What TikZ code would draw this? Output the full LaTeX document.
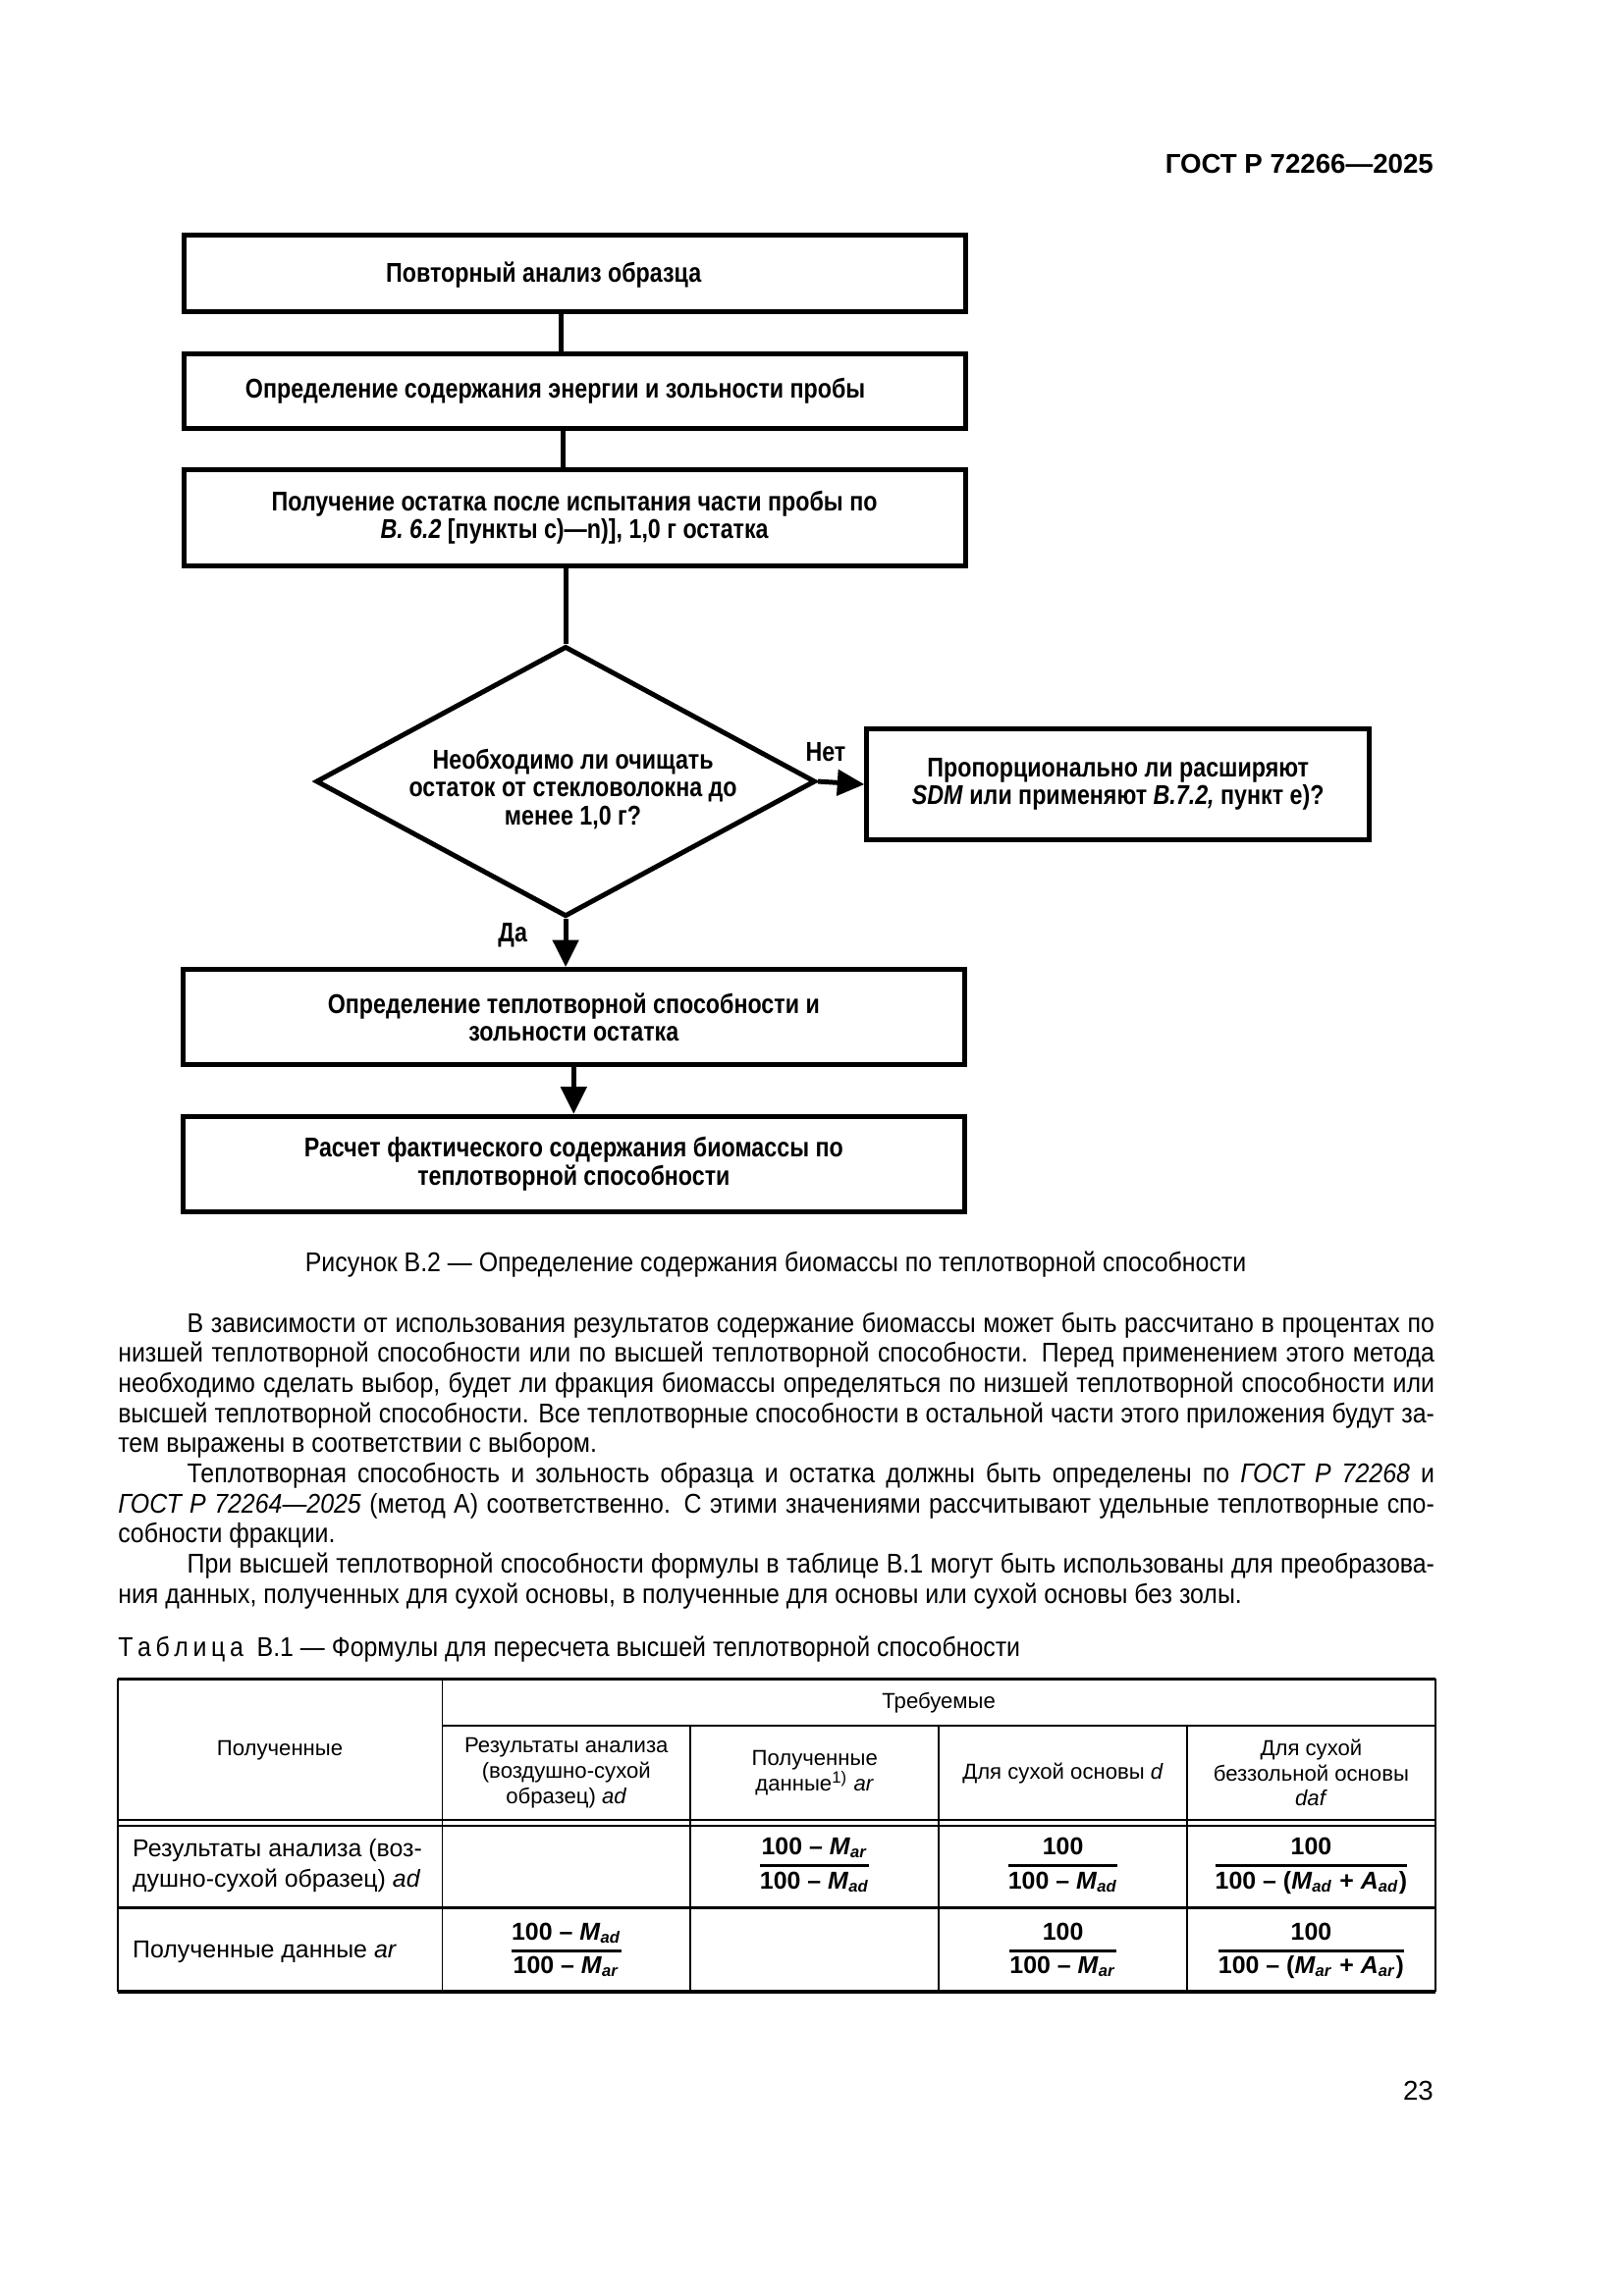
\documentclass[tikz,border=0pt]{standalone}
\usepackage{fontspec}
\setmainfont{Liberation Sans}
\newfontfamily\figfont[FakeStretch=0.84]{Liberation Sans}
\newfontfamily\bodyfont[FakeStretch=0.9]{Liberation Sans}
\usetikzlibrary{arrows.meta,shapes.geometric}
\newcommand\fr[2]{{\setlength\arrayrulewidth{1pt}\renewcommand\arraystretch{1.15}\begin{tabular}{@{}c@{}}#1\\\hline #2\end{tabular}}}
\newcommand\Mx[1]{\textit{M}\textsubscript{\textit{#1}}}
\newcommand\Ax[1]{\textit{A}\textsubscript{\textit{#1}}}
\newcommand\jl[1]{\makebox[170.24mm][s]{#1}}
\newcommand\ji[1]{\makebox[161.31mm][s]{#1}}
\begin{document}
\begin{tikzpicture}[x=0.19mm,y=-0.19mm,
 box/.style={draw,line width=1.8pt,minimum width=101.08mm,inner sep=0pt,align=center,font=\figfont\bfseries\fontsize{10}{10.3}\selectfont},
 conn/.style={line width=1.8pt},
 arr/.style={line width=1.8pt,-{Triangle[length=3.5mm,width=3.3mm]}},
 figlbl/.style={font=\figfont\bfseries\fontsize{10}{10.3}\selectfont,inner sep=0pt,align=center},
 body/.style={anchor=base west,inner sep=0pt,font=\bodyfont\fontsize{10}{11}\selectfont},
 tline/.style={line width=0.6pt},
 tthick/.style={line width=1.2pt},
 th/.style={font=\fontsize{8}{9.3}\selectfont,align=center,inner sep=0pt},
 td/.style={font=\fontsize{9}{11}\selectfont,align=left,inner sep=0pt,anchor=west},
 tf/.style={font=\bfseries\fontsize{9}{10}\selectfont,inner sep=0pt}]
\useasboundingbox (0,0) rectangle (1105.26,1563.16);
\fill[white] (0,0) rectangle (1105.26,1563.16);

\node[anchor=base east,inner sep=0pt,font=\bfseries\fontsize{10}{12}\selectfont] (hdr) at (976,118) {ГОСТ Р 72266—2025};

% flowchart
\node[box,minimum height=9.88mm] (b1) at (391,186) {};
\node[figlbl] (t1) at (370,187) {Повторный анализ образца};
\node[box,minimum height=9.69mm] (b2) at (391,266.5) {};
\node[figlbl] (t2) at (378,266) {Определение содержания энергии и зольности пробы};
\node[box,minimum height=12.35mm] (b3) at (391,352.5) {Получение остатка после испытания части пробы по\\\textit{В. 6.2} [пункты c)—n)], 1,0 г остатка};
\node[draw,diamond,line width=1.8pt,minimum width=64.6mm,minimum height=34.96mm,inner sep=0pt] (d) at (385,532) {};
\node[figlbl] (dt) at (390,537) {Необходимо ли очищать\\остаток от стекловолокна до\\менее 1,0 г?};
\node[box,minimum width=64.98mm,minimum height=14.44mm] (rb) at (761,534) {Пропорционально ли расширяют\\\textit{SDM} или применяют \textit{В.7.2,} пункт е)?};
\node[box,minimum height=12.35mm] (b4) at (390.5,692.5) {Определение теплотворной способности и\\зольности остатка};
\node[box,minimum height=12.35mm] (b5) at (390.5,792.5) {Расчет фактического содержания биомассы по\\теплотворной способности};

\coordinate (cx1) at (382,0);
\coordinate (cx2) at (383,0);
\draw[conn] (b1.south -| cx1) -- (b2.north -| cx1);
\draw[conn] (b2.south -| cx2) -- (b3.north -| cx2);
\draw[conn] (b3.south -| d.north) -- (d.north);
\draw[arr] (d.east) -- (rb.west);
\draw[arr] (d.south) -- (b4.north -| d.south);
\draw[arr] (b4.south) -- (b5.north);
\node[figlbl] (no) at (562,512) {Нет};
\node[figlbl] (yes) at (349,637) {Да};

\node[anchor=base,inner sep=0pt,font=\bodyfont\fontsize{10}{12}\selectfont] (cap) at (528,866) {Рисунок В.2 — Определение содержания биомассы по теплотворной способности};

% body text
\node[body] (p1) at (127,907) {\ji{В зависимости от использования результатов содержание биомассы может быть рассчитано в процентах по}};
\node[body] (p2) at (80,927.5) {\jl{низшей теплотворной способности или по высшей теплотворной способности. Перед применением этого метода}};
\node[body] (p3) at (80,948) {\jl{необходимо сделать выбор, будет ли фракция биомассы определяться по низшей теплотворной способности или}};
\node[body] (p4) at (80,968.5) {\jl{высшей теплотворной способности. Все теплотворные способности в остальной части этого приложения будут за-}};
\node[body] (p5) at (80,989) {тем выражены в соответствии с выбором.};
\node[body] (p6) at (127,1009.5) {\ji{Теплотворная способность и зольность образца и остатка должны быть определены по \textit{ГОСТ Р 72268} и}};
\node[body] (p7) at (80,1030) {\jl{\textit{ГОСТ Р 72264—2025} (метод А) соответственно. С этими значениями рассчитывают удельные теплотворные спо-}};
\node[body] (p8) at (80,1050.5) {собности фракции.};
\node[body] (p9) at (127,1071) {\ji{При высшей теплотворной способности формулы в таблице В.1 могут быть использованы для преобразова-}};
\node[body] (p10) at (80,1091.5) {ния данных, полученных для сухой основы, в полученные для основы или сухой основы без золы.};

\node[body] (tc) at (80,1128) {Т\,а\,б\,л\,и\,ц\,а\enspace В.1 — Формулы для пересчета высшей теплотворной способности};

% table
\draw[tthick] (80,1143) -- (977,1143);
\draw[tline] (301,1175) -- (977,1175);
\draw[tline] (80,1239) -- (977,1239);
\draw[tline] (80,1243) -- (977,1243);
\draw[tthick] (80,1299) -- (977,1299);
\draw[tthick] (80,1356) -- (977,1356);
\draw[tline] (80,1143) -- (80,1356);
\draw[tline] (977,1143) -- (977,1356);
\draw[tline] (301,1143) -- (301,1356);
\draw[tline] (470,1175) -- (470,1356);
\draw[tline] (639,1175) -- (639,1356);
\draw[tline] (808,1175) -- (808,1356);

\node[th] (h0) at (190.5,1192) {Полученные};
\node[th] (h1) at (639,1159) {Требуемые};
\node[th] (h2) at (385.5,1207) {Результаты анализа\\(воздушно-сухой\\образец) \textit{ad}};
\node[th] (h3) at (554.5,1207) {Полученные\\данные\textsuperscript{1)} \textit{ar}};
\node[th] (h4) at (723.5,1207) {Для сухой основы \textit{d}};
\node[th] (h5) at (892.5,1207) {Для сухой\\беззольной основы\\\textit{daf}};

\node[td] (r1) at (90,1270) {Результаты анализа (воз-\\душно-сухой образец) \textit{ad}};
\node[td] (r2) at (90,1329) {Полученные данные \textit{ar}};

\node[tf] (f13) at (554.5,1270) {\fr{100 – \Mx{ar}}{100 – \Mx{ad}}};
\node[tf] (f14) at (723.5,1270) {\fr{100}{100 – \Mx{ad}}};
\node[tf] (f15) at (892.5,1270) {\fr{100}{100 – (\Mx{ad} + \Ax{ad})}};
\node[tf] (f22) at (385.5,1328) {\fr{100 – \Mx{ad}}{100 – \Mx{ar}}};
\node[tf] (f24) at (723.5,1328) {\fr{100}{100 – \Mx{ar}}};
\node[tf] (f25) at (892.5,1328) {\fr{100}{100 – (\Mx{ar} + \Ax{ar})}};

\node[anchor=base east,inner sep=0pt,font=\fontsize{10}{12}\selectfont] (pg) at (976,1429.5) {23};
\end{tikzpicture}
\end{document}
